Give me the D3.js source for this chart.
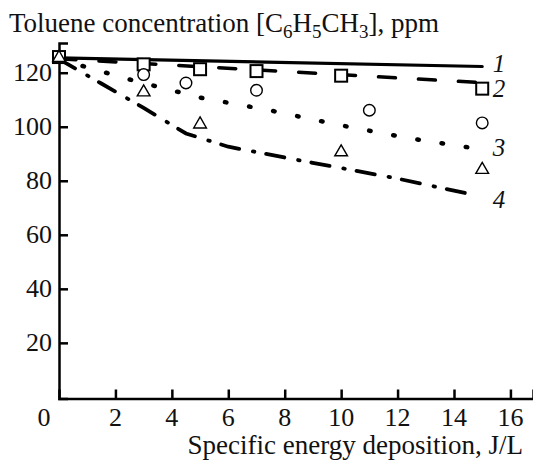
<!DOCTYPE html>
<html>
<head>
<meta charset="utf-8">
<script src="https://cdn.jsdelivr.net/npm/d3@7"></script>
<style>
  html, body { margin: 0; padding: 0; background: #fff; }
  svg text { font-family: "Liberation Serif", "Times New Roman", serif; fill: #111; }
</style>
</head>
<body>
<div id="chart"></div>
<script>
/* toluene decay vs specific energy deposition */

var xTicks = [2, 4, 6, 8, 10, 12, 14, 16];
var yTicks = [20, 40, 60, 80, 100, 120];

/* fitted curves 1..4 */
var curve1 = [[0, 125.5], [15, 122.3]];
var curve2 = [[0, 125.2], [15, 116.3]];
var curve3 = [[0, 125], [2.5, 117.5], [5, 110.8], [7.5, 106], [10, 100.5], [12.5, 95.6], [15, 91.6]];
var curve4 = [[0, 125], [1.5, 116], [3, 107], [4.5, 97.5], [6, 92.6], [8, 88.6], [10, 84.7], [12, 80.8], [14.6, 75]];

/* measured points */
var squares   = [[0, 125.8], [3, 123.1], [5, 121.3], [7, 120.6], [10, 118.9], [15, 114.1]];
var circles   = [[3, 119.3], [4.5, 116.2], [7, 113.5], [11, 106.1], [15, 101.4]];
var triangles = [[0, 125.5], [3, 112.8], [5, 100.9], [10, 90.6], [15, 84.1]];

var curveLabels = ['1', '2', '3', '4'];

(function drawChart() {
  var W = 533, H = 461;
  var svg = d3.select('#chart').append('svg')
    .attr('width', W).attr('height', H);

  var x = d3.scaleLinear().domain([0, 16.8]).range([59, 533]);
  var y = d3.scaleLinear().domain([-0.6, 131]).range([398.5, 43]);

  /* ── axes ── */
  var yAxis = d3.axisRight(y).tickValues(yTicks).tickSize(9).tickFormat('');
  var xAxis = d3.axisTop(x).tickValues(xTicks).tickSize(9).tickFormat('');

  var gy = svg.append('g').attr('transform', 'translate(' + x(0) + ',0)').call(yAxis);
  var gx = svg.append('g').attr('transform', 'translate(0,' + y(-0.6) + ')').call(xAxis);
  [gx, gy].forEach(function (g) {
    g.select('.domain').attr('stroke', '#000').attr('stroke-width', 2.5);
    g.selectAll('.tick line').attr('stroke', '#000').attr('stroke-width', 2.5);
  });

  /* tick labels */
  yTicks.forEach(function (v) {
    svg.append('text').attr('x', 52).attr('y', y(v) + 8.5)
      .attr('text-anchor', 'end').attr('font-size', 26).text(v);
  });
  xTicks.forEach(function (v) {
    svg.append('text').attr('x', x(v)).attr('y', 426)
      .attr('text-anchor', 'middle').attr('font-size', 26).text(v);
  });
  svg.append('text').attr('x', 44).attr('y', 426)
    .attr('text-anchor', 'middle').attr('font-size', 26).text('0');

  /* axis titles */
  svg.append('text').attr('x', 523).attr('y', 454)
    .attr('text-anchor', 'end').attr('font-size', 27)
    .text('Specific energy deposition, J/L');

  var t = svg.append('text').attr('x', 9).attr('y', 31.5).attr('font-size', 27);
  t.append('tspan').text('Toluene concentration [C');
  t.append('tspan').attr('dy', 6).attr('font-size', 19).text('6');
  t.append('tspan').attr('dy', -6).text('H');
  t.append('tspan').attr('dy', 6).attr('font-size', 19).text('5');
  t.append('tspan').attr('dy', -6).text('CH');
  t.append('tspan').attr('dy', 6).attr('font-size', 19).text('3');
  t.append('tspan').attr('dy', -6).text('], ppm');

  /* ── curves ── */
  var line = d3.line().x(function (d) { return x(d[0]); }).y(function (d) { return y(d[1]); });
  var curves = [
    { data: curve1, dash: null,                 w: 3.2 },
    { data: curve2, dash: '17,23',              w: 3.5 },
    { data: curve3, dash: '1.5,23',             w: 4.5 },
    { data: curve4, dash: '18.5,14,1.5,12',     w: 3.8 }
  ];
  curves.forEach(function (c) {
    svg.append('path').datum(c.data).attr('d', line)
      .attr('fill', 'none').attr('stroke', '#000')
      .attr('stroke-width', c.w).attr('stroke-linecap', 'round')
      .attr('stroke-dasharray', c.dash);
  });

  /* curve numbers */
  var labY = [63, 88, 147, 199];
  curveLabels.forEach(function (s, i) {
    svg.append('text').attr('x', 499).attr('y', labY[i] + 8.5)
      .attr('text-anchor', 'middle').attr('font-size', 25)
      .attr('font-style', 'italic').text(s);
  });

  /* ── markers ── */
  svg.selectAll('.sq').data(squares).enter().append('rect')
    .attr('x', function (d) { return x(d[0]) - 6; })
    .attr('y', function (d) { return y(d[1]) - 6; })
    .attr('width', 12).attr('height', 12)
    .attr('fill', '#fff').attr('stroke', '#000').attr('stroke-width', 2);

  svg.selectAll('.ci').data(circles).enter().append('circle')
    .attr('cx', function (d) { return x(d[0]); })
    .attr('cy', function (d) { return y(d[1]); })
    .attr('r', 5.8)
    .attr('fill', '#fff').attr('stroke', '#000').attr('stroke-width', 1.4);

  var tri = d3.symbol().type(d3.symbolTriangle).size(70);
  svg.selectAll('.tr').data(triangles).enter().append('path')
    .attr('d', tri)
    .attr('transform', function (d) { return 'translate(' + x(d[0]) + ',' + y(d[1]) + ')'; })
    .attr('fill', '#fff').attr('stroke', '#000').attr('stroke-width', 1.4);
}());
</script>
</body>
</html>
